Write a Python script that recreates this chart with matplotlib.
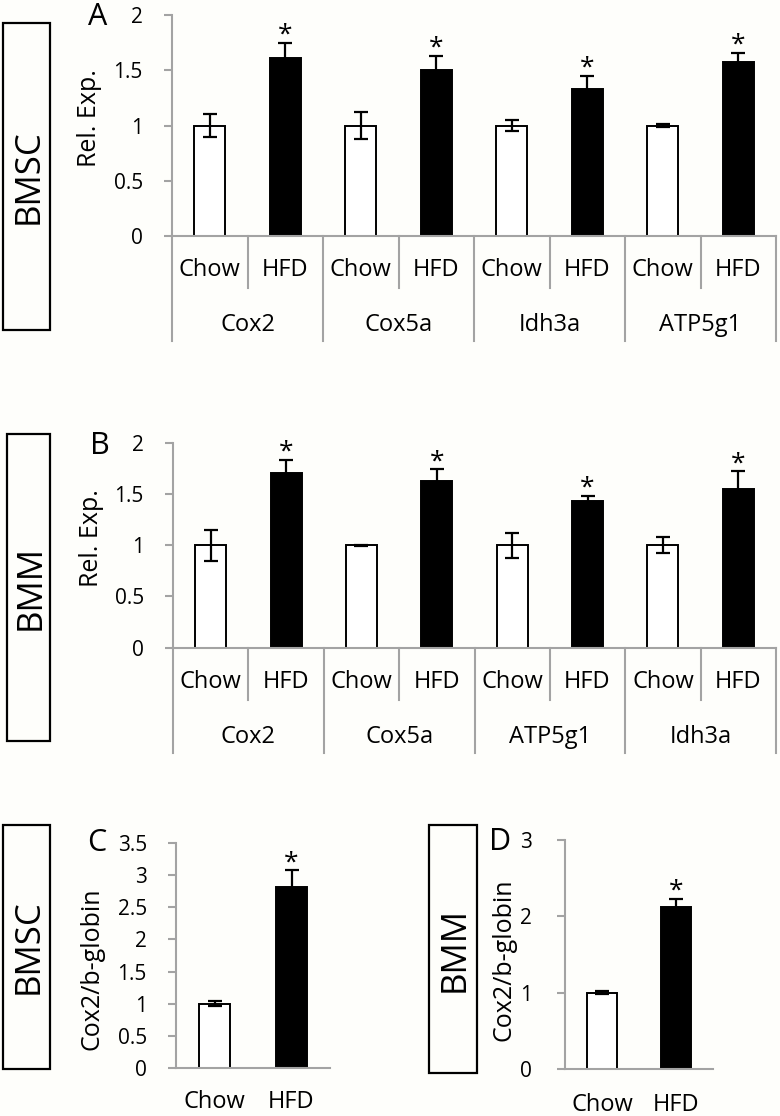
import matplotlib
matplotlib.use("Agg")
import matplotlib.pyplot as plt
from matplotlib.patches import Rectangle
from matplotlib.lines import Line2D

plt.rcParams['font.family'] = ['Open Sans', 'DejaVu Sans']

# ---------------- data ----------------
groups = ['Chow', 'HFD']

genes_A = ['Cox2', 'Cox5a', 'Idh3a', 'ATP5g1']
chow_A = [1.0, 1.0, 1.0, 1.0]
chow_A_err = [0.10, 0.12, 0.05, 0.015]
hfd_A = [1.61, 1.50, 1.33, 1.575]
hfd_A_err = [0.14, 0.13, 0.12, 0.08]

genes_B = ['Cox2', 'Cox5a', 'ATP5g1', 'Idh3a']
chow_B = [1.0, 1.0, 1.0, 1.0]
chow_B_err = [0.15, 0.006, 0.12, 0.08]
hfd_B = [1.70, 1.63, 1.43, 1.55]
hfd_B_err = [0.13, 0.11, 0.05, 0.17]

vals_C = [1.0, 2.82]
err_C = [0.035, 0.26]
vals_D = [1.0, 2.12]
err_D = [0.02, 0.11]

yticks_AB = [0, 0.5, 1, 1.5, 2]
ytick_labels_AB = ['0', '0.5', '1', '1.5', '2']
yticks_C = [0, 0.5, 1, 1.5, 2, 2.5, 3, 3.5]
ytick_labels_C = ['0', '0.5', '1', '1.5', '2', '2.5', '3', '3.5']
yticks_D = [0, 1, 2, 3]
ytick_labels_D = ['0', '1', '2', '3']

# ---------------- layout ----------------
W, H = 780, 1116
BG = '#fefefb'
AXC = '#a3a3a3'
fig = plt.figure(figsize=(W / 100, H / 100), dpi=100, facecolor=BG)

FS_TICK = 15
FS_CAT = 17
FS_YLAB = 18
FS_BOX = 25
FS_LET = 22
FS_STAR = 19


def axes_px(l, t, r, b):
    ax = fig.add_axes([l / W, 1 - b / H, (r - l) / W, (b - t) / H])
    ax.set_facecolor('none')
    return ax


def fig_text(x, y, s, **kw):
    fig.text(x / W, 1 - y / H, s, **kw)


def box(l, t, r, b, label):
    fig.patches.append(Rectangle((l / W, 1 - b / H), (r - l) / W, (b - t) / H,
                                 transform=fig.transFigure, fill=False,
                                 edgecolor='black', linewidth=1.6))
    fig_text((l + r) / 2 + 2, (t + b) / 2, label, rotation=90, ha='center',
             va='center', fontsize=FS_BOX)


def style_axes(ax, ymax, yticks, ylabels, pad):
    ax.set_ylim(0, ymax)
    ax.spines['top'].set_visible(False)
    ax.spines['right'].set_visible(False)
    for s in ('left', 'bottom'):
        ax.spines[s].set_color(AXC)
        ax.spines[s].set_linewidth(1.5)
    ax.set_yticks(yticks)
    ax.set_yticklabels(ylabels)
    ax.tick_params(axis='y', direction='out', length=6, width=1.5, color=AXC,
                   labelsize=FS_TICK, pad=pad, labelcolor='black')
    ax.set_xticks([])


def bars(ax, x, vals, errs, colors):
    ax.bar(x, vals, width=0.41, color=colors, edgecolor='black',
           linewidth=1.4, zorder=2)
    ax.errorbar(x, vals, yerr=errs, fmt='none', ecolor='black',
                elinewidth=1.6, capsize=5, capthick=1.6, zorder=3)


def star(ax, x, top):
    ax.annotate('*', xy=(x, top), xycoords='data', xytext=(0, 0.8),
                textcoords='offset points', ha='center', va='baseline',
                fontsize=FS_STAR, annotation_clip=False)


def grouped_panel(l, t, r, b, genes, chow, chow_err, hfd, hfd_err):
    ax = axes_px(l, t, r, b)
    n = len(genes)
    style_axes(ax, 2, yticks_AB, ytick_labels_AB, pad=15)
    ax.set_xlim(-0.5, 2 * n - 0.5)
    xc = [2 * i for i in range(n)]
    xh = [2 * i + 1 for i in range(n)]
    bars(ax, xc, chow, chow_err, 'white')
    bars(ax, xh, hfd, hfd_err, 'black')
    for x, v, e in zip(xh, hfd, hfd_err):
        star(ax, x, v + e)
    hpx = b - t
    tr = ax.get_xaxis_transform()
    for k in range(2 * n + 1):
        depth = 105 if k % 2 == 0 else 52
        ax.add_line(Line2D([k - 0.5, k - 0.5], [0, -depth / hpx], transform=tr,
                           color=AXC, linewidth=1.5, clip_on=False))
    for i in range(n):
        for j, g in enumerate(groups):
            ax.text(2 * i + j, -34 / hpx, g, transform=tr, ha='center',
                    va='center', fontsize=FS_CAT)
        ax.text(2 * i + 0.5, -89 / hpx, genes[i], transform=tr, ha='center',
                va='center', fontsize=FS_CAT)
    return ax


# Panel A
grouped_panel(172, 15, 776, 236, genes_A, chow_A, chow_A_err, hfd_A, hfd_A_err)
box(3, 23, 50, 330, 'BMSC')
fig_text(98, 17, 'A', ha='center', va='center', fontsize=FS_LET)
fig_text(90, 118, 'Rel. Exp.', rotation=90, ha='center', va='center', fontsize=FS_YLAB)

# Panel B
grouped_panel(173, 442.7, 776, 647.7, genes_B, chow_B, chow_B_err, hfd_B, hfd_B_err)
box(7, 434, 50, 741, 'BMM')
fig_text(100, 446, 'B', ha='center', va='center', fontsize=FS_LET)
fig_text(91, 538, 'Rel. Exp.', rotation=90, ha='center', va='center', fontsize=FS_YLAB)


def simple_panel(l, t, r, b, vals, errs, ymax, yt, ytl, pad, lab_off):
    ax = axes_px(l, t, r, b)
    style_axes(ax, ymax, yt, ytl, pad=pad)
    ax.set_xlim(-0.5, 1.5)
    bars(ax, [0, 1], vals, errs, ['white', 'black'])
    star(ax, 1, vals[1] + errs[1])
    hpx = b - t
    tr = ax.get_xaxis_transform()
    for j, g in enumerate(groups):
        ax.text(j, -lab_off / hpx, g, transform=tr, ha='center', va='center',
                fontsize=FS_CAT)
    return ax


# Panel C
simple_panel(176, 843.3, 330, 1067.7, vals_C, err_C, 3.5, yticks_C, ytick_labels_C,
             pad=15, lab_off=34)
box(3, 825, 50, 1069, 'BMSC')
fig_text(97, 843, 'C', ha='center', va='center', fontsize=FS_LET)
fig_text(92, 969, 'Cox2/b-globin', rotation=90, ha='center', va='center', fontsize=FS_YLAB)

# Panel D
simple_panel(565, 840, 713, 1069.3, vals_D, err_D, 3, yticks_D, ytick_labels_D,
             pad=18, lab_off=36)
box(429, 825, 477, 1073, 'BMM')
fig_text(500, 842, 'D', ha='center', va='center', fontsize=FS_LET)
fig_text(504, 960, 'Cox2/b-globin', rotation=90, ha='center', va='center', fontsize=FS_YLAB)

fig.savefig('out.png', dpi=100, facecolor=BG)
